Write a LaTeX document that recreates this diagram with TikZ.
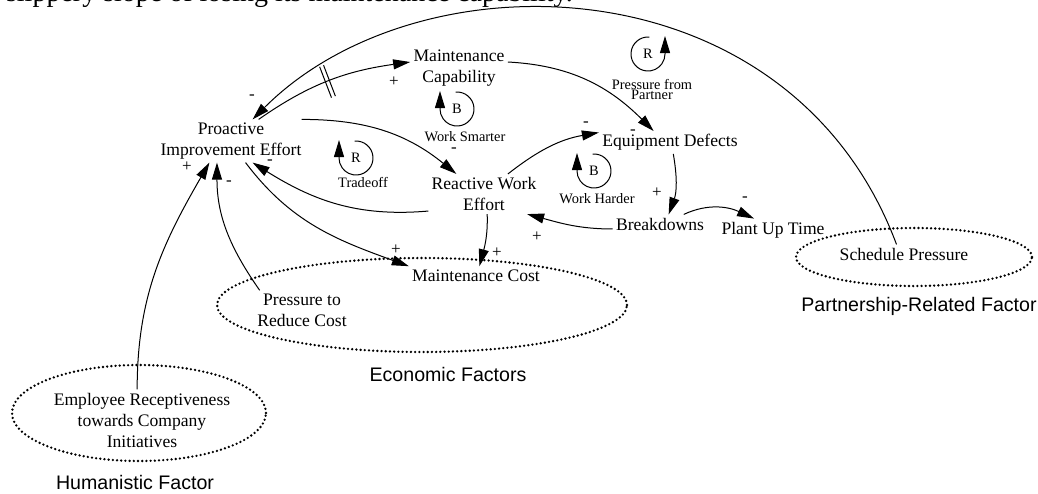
\documentclass[tikz,border=0pt]{standalone}
\usepackage{fontspec}
\setmainfont{Liberation Serif}
\setsansfont{Liberation Sans}
\usetikzlibrary{arrows.meta,shapes.geometric}
\newcommand\looptext{\fontsize{7.2}{5}\selectfont\lineskiplimit=-10pt\relax}

\begin{document}
\begin{tikzpicture}[x=0.5pt, y=-0.5pt,
  var/.style={align=center, inner sep=1.5pt, font=\fontsize{8.8}{10.5}\selectfont},
  pol/.style={inner sep=0pt, font=\fontsize{8.5}{10}\selectfont},
  loopid/.style={inner sep=0pt, font=\fontsize{7.2}{8.6}\selectfont},
  looplbl/.style={align=center, inner sep=0pt, font=\looptext},
  grp/.style={draw, ellipse, inner sep=0pt, line width=1.3pt, dash pattern=on 0pt off 2.1pt, line cap=round},
  grplbl/.style={font=\sffamily\fontsize{9.8}{11.8}\selectfont},
  link/.style={-{Triangle[length=8.5pt,width=5pt]}, line width=0.5pt}]
\useasboundingbox (0,0) rectangle (1038,493);

\node (title) at (-1,1) [anchor=base west, font=\fontsize{14}{16.8}\selectfont] {slippery slope of losing its maintenance capability.};

\node (pie) at (231,141) [var] {Proactive\\Improvement Effort};
\node (mcap) at (459,68) [var] {Maintenance\\Capability};
\node (rwe) at (484,194) [var] {Reactive Work\\Effort};
\node (ed) at (670,142.5) [var] {Equipment Defects};
\node (bd) at (660,224) [var] {Breakdowns};
\node (put) at (773,230) [var] {Plant Up Time};
\node (mcost) at (476,275.5) [var] {Maintenance Cost};
\node (prc) at (302,310) [var] {Pressure to\\Reduce Cost};
\node (erc) at (142,420) [var] {Employee Receptiveness\\towards Company\\Initiatives};
\node (sp) at (904,254) [var] {Schedule Pressure};

\node (econ) at (422,305) [grp, minimum width=205pt, minimum height=47pt] {};
\node (hum) at (139,413) [grp, minimum width=127pt, minimum height=48pt] {};
\node (part) at (914,257) [grp, minimum width=118pt, minimum height=29pt] {};
\node (econl) at (448,374) [grplbl] {Economic Factors};
\node (huml) at (135,482) [grplbl] {Humanistic Factor};
\node (partl) at (919,306) [grplbl] {Partnership-Related Factor};

\node (ws) at (457,109) [loopid] {B};
\node (wsl) at (465,137) [looplbl] {Work Smarter};
\node (tdo) at (356,158) [loopid] {R};
\node (tdol) at (363,182) [looplbl] {Tradeoff};
\node (wh) at (594,171) [loopid] {B};
\node (whl) at (597,199) [looplbl] {Work Harder};
\node (pp) at (648,54) [loopid] {R};
\node (ppl) at (652,89) [looplbl] {Pressure from\\Partner};

\draw[link] (ws) ++(95:8.5pt) arc[start angle=95, end angle=-180, radius=8.5pt] -- ++(0pt,9pt);
\draw[link] (tdo) ++(95:8.5pt) arc[start angle=95, end angle=-180, radius=8.5pt] -- ++(0pt,9pt);
\draw[link] (wh) ++(95:8.5pt) arc[start angle=95, end angle=-180, radius=8.5pt] -- ++(0pt,9pt);
\draw[link] (pp) ++(85:8.5pt) arc[start angle=85, end angle=360, radius=8.5pt] -- ++(0pt,9pt);

\draw[link] (sp.128) .. controls (790,-40) and (420,-48) .. (pie.45);
\draw[link] (pie.38) to[out=35, in=188] node[sloped, pos=0.48, inner sep=0pt] (delay) {\rule{0.5pt}{16.5pt}\hspace{1.6pt}\rule{0.5pt}{16.5pt}} (mcap.173);
\draw[link] (pie.17) to[out=0, in=141] (rwe.144);
\draw[link] (rwe.-163) to[out=185, in=-32] (pie.-45);
\draw[link] (pie.-56) to[out=-53, in=160] (mcost.north west);
\draw[link] (rwe.-81) to[out=-88, in=75] (mcost.70);
\draw[link] (rwe.40) to[out=38, in=190] (ed.172);
\draw[link] (mcap.7) to[out=-3, in=135] (ed.145);
\draw[link] (ed.-74) to[out=-80, in=70] (bd.48);
\draw[link] (bd.-174) to[out=180, in=-15] (rwe.-25);
\draw[link] (bd.22) to[out=25, in=155] (put.149);
\draw[link] (erc.99) to[out=90, in=-120] (pie.-135);
\draw[link] (prc.155) to[out=125, in=-90] (pie.-123);

\node (s1) at (252,97) [pol] {-};
\node (s2) at (394,82) [pol] {+};
\node (s3) at (454,150) [pol] {-};
\node (s4) at (270,162) [pol] {-};
\node (s5) at (396,250) [pol] {+};
\node (s6) at (497,253) [pol] {+};
\node (s7) at (586,124) [pol] {-};
\node (s8) at (633,132) [pol] {-};
\node (s9) at (657,193) [pol] {+};
\node (s10) at (537,237) [pol] {+};
\node (s11) at (745,199) [pol] {-};
\node (s12) at (187,167) [pol] {+};
\node (s13) at (229,183) [pol] {-};
\end{tikzpicture}
\end{document}
